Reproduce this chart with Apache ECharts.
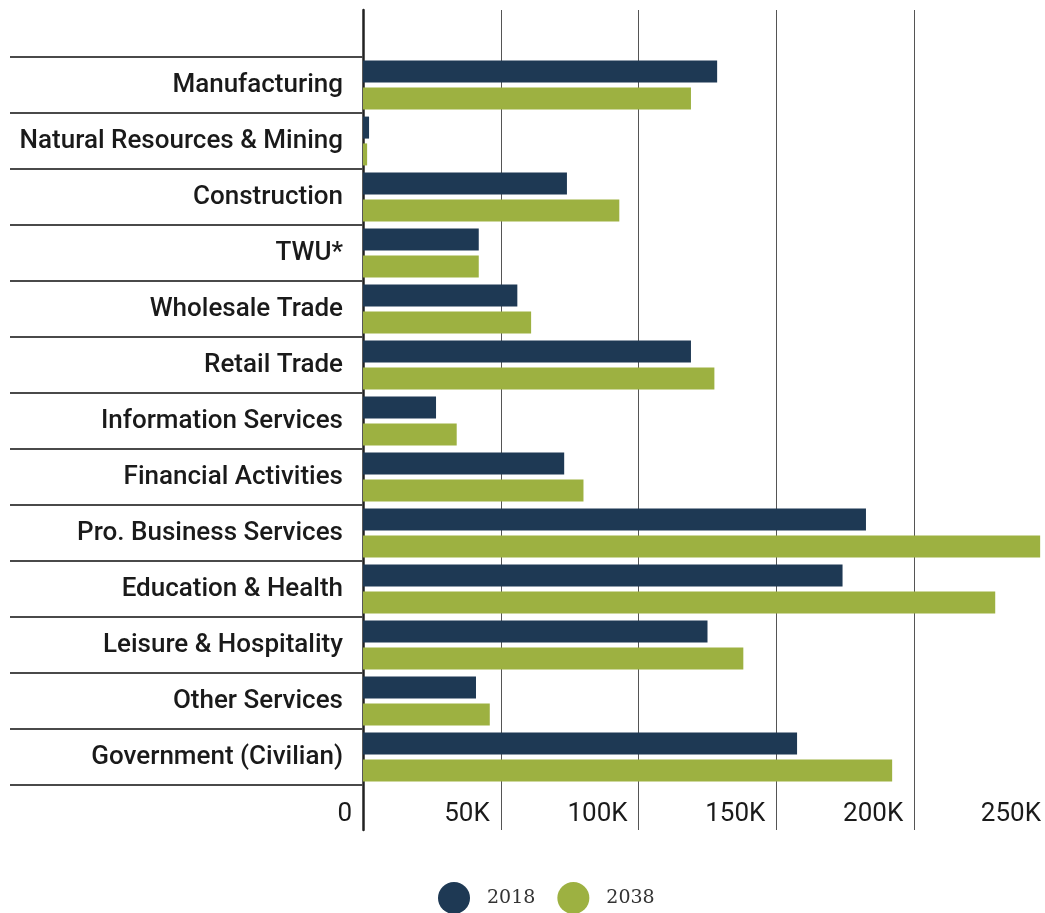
<!DOCTYPE html>
<html>
<head>
<meta charset="utf-8">
<script src="https://cdn.jsdelivr.net/npm/echarts@6/dist/echarts.min.js"></script>
<style>
  html, body { margin: 0; padding: 0; background: #fff; }
  #chart { width: 1045px; height: 913px; }
</style>
</head>
<body>
<div id="chart"></div>
<script>
// employment by sector
const categories = [
  'Manufacturing', 'Natural Resources & Mining', 'Construction', 'TWU*',
  'Wholesale Trade', 'Retail Trade', 'Information Services', 'Financial Activities',
  'Pro. Business Services', 'Education & Health', 'Leisure & Hospitality',
  'Other Services', 'Government (Civilian)'
]
const values2018 = [128500, 2200, 74000, 42000, 56000, 119000, 26500, 73000, 182500, 174000, 125000, 41000, 157500]
const values2038 = [119000, 1500, 93000, 42000, 61000, 127500, 34000, 80000, 245700, 229400, 138000, 46000, 192000]
const seriesNames = ['2018', '2038']
const xTicks = [0, 50000, 100000, 150000, 200000, 250000]
const tickLabels = ['0', '50K', '100K', '150K', '200K', '250K']

const chart = echarts.init(document.getElementById('chart'))

const xMax = xTicks[xTicks.length - 1]
const xStep = xTicks[1] - xTicks[0]

const option = {
  animation: false,
  backgroundColor: '#fff',
  grid: [
    // bars
    { left: 363, width: 689, top: 57, bottom: 128, outerBoundsMode: 'none' },
    // long axis line + vertical grid lines
    { left: 363, width: 689, top: 10, bottom: 83, outerBoundsMode: 'none' }
  ],
  xAxis: [
    {
      gridIndex: 0, type: 'value', min: 0, max: xMax, interval: xStep,
      show: false
    },
    {
      gridIndex: 1, type: 'value', min: 0, max: xMax, interval: xStep,
      axisLine: { show: false },
      axisTick: { show: false },
      splitLine: { show: true, lineStyle: { color: '#555', width: 1 } },
      axisLabel: {
        inside: true,
        margin: 3,
        align: 'right',
        padding: [0, 11, 0, 0],
        fontFamily: 'Roboto',
        fontSize: 26,
        color: '#1a1a1a',
        hideOverlap: false,
        formatter: v => tickLabels[xTicks.indexOf(v)] ?? ''
      }
    }
  ],
  yAxis: [
    {
      gridIndex: 0, type: 'category', data: categories, inverse: true,
      axisLine: { show: false },
      axisTick: { show: true, length: 353, lineStyle: { color: '#4a4a4a', width: 2 } },
      axisLabel: {
        margin: 20,
        fontFamily: 'Roboto',
        fontWeight: 500,
        fontSize: 26,
        color: '#1a1a1a'
      }
    },
    {
      gridIndex: 1, type: 'value', min: 0, max: 1,
      axisLine: { show: true, lineStyle: { color: '#222', width: 2.5 } },
      axisTick: { show: false },
      axisLabel: { show: false },
      splitLine: { show: false }
    }
  ],
  legend: {
    data: seriesNames,
    top: 877,
    left: 433,
    icon: 'circle',
    itemWidth: 32,
    itemHeight: 32,
    itemGap: 22,
    textStyle: { fontFamily: 'DejaVu Serif', fontSize: 19, color: '#333', padding: [0, 0, 0, 12] }
  },
  series: [
    {
      name: seriesNames[0], type: 'bar', xAxisIndex: 0, yAxisIndex: 0,
      data: values2018, barWidth: 22, barGap: '22%',
      itemStyle: { color: '#1e3954' }
    },
    {
      name: seriesNames[1], type: 'bar', xAxisIndex: 0, yAxisIndex: 0,
      data: values2038, barWidth: 22, barGap: '22%',
      itemStyle: { color: '#9db141' }
    }
  ]
}

chart.setOption(option)
</script>
</body>
</html>
